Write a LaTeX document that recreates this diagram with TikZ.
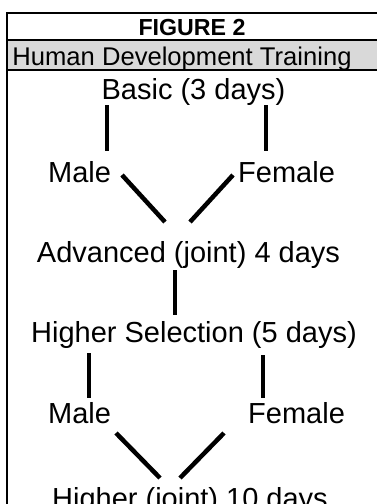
\documentclass[tikz,border=0pt]{standalone}
\usepackage{fontspec}
\setmainfont{Liberation Sans}

\begin{document}
\begin{tikzpicture}[x=1pt,y=-1pt,
    rule/.style={line width=2pt},
    link/.style={line width=4.5pt},
    txt/.style={inner sep=0pt,anchor=base,font=\fontsize{29}{34}\selectfont}]
        \useasboundingbox (0,0) rectangle (377,504);
        \clip (0,0) rectangle (377,504);

        % 表头
        \fill[gray!30] (7,40) rectangle (377,70);
        \draw[rule] (377,13) -- (7,13) -- (7,504);
        \draw[rule] (7,40) -- (377,40);
        \draw[rule] (7,70) -- (377,70);

        \node[inner sep=0pt,anchor=base,font=\bfseries\fontsize{23.2}{28}\selectfont] (fig) at (192,35) {FIGURE 2};
        \node[inner sep=0pt,anchor=base,font=\fontsize{25.6}{30}\selectfont] (title) at (182,65) {Human Development Training};

        % 各阶段
        \node[txt] (basic) at (193.5,99) {Basic (3 days)};
        \node[txt,anchor=base west] (male1) at (48,182) {Male};
        \node[txt,anchor=base west] (female1) at (238,182) {Female};
        \node[txt] (adv) at (188.5,262) {Advanced (joint) 4 days};
        \node[txt] (sel) at (194,342) {Higher Selection (5 days)};
        \node[txt,anchor=base west] (male2) at (48,423) {Male};
        \node[txt,anchor=base west] (female2) at (248,423) {Female};
        \node[txt] (joint) at (190,508) {Higher (joint) 10 days};

        % 连线端点
        \foreach \n/\x/\y in {a1/107/105, a2/107/151, b1/266/105, b2/266/151,
                              c1/122/175, c2/165/222, d1/233/175, d2/190/222,
                              e1/175/270, e2/175/315,
                              f1/89/353, f2/89/398, g1/263/355, g2/263/398,
                              h1/116/433, h2/160/478, k1/224/433, k2/180/478}
          \coordinate (\n) at (\x,\y);

        % 连线
        \foreach \s/\t in {a1/a2, b1/b2, c1/c2, d1/d2, e1/e2, f1/f2, g1/g2, h1/h2, k1/k2}
          \draw[link] (\s) -- (\t);
      \end{tikzpicture}
\end{document}
